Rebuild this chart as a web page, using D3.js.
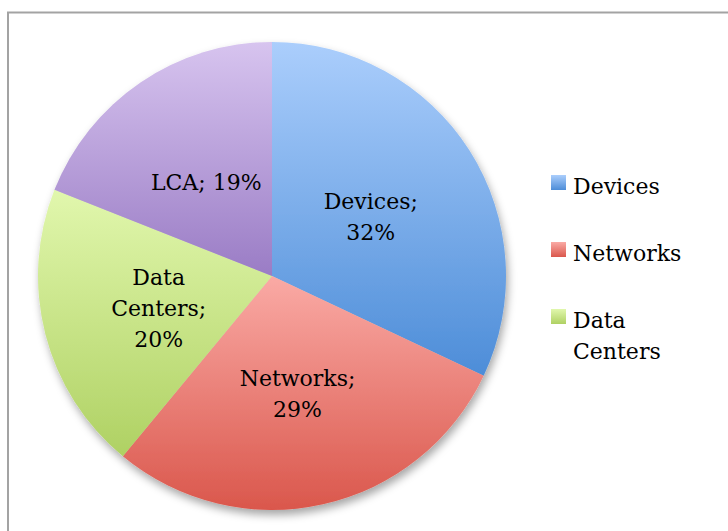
<!DOCTYPE html>
<html>
<head>
<meta charset="utf-8">
<script src="https://cdn.jsdelivr.net/npm/d3@7/dist/d3.min.js"></script>
<style>
  body { margin: 0; background: #fff; }
  text { font-family: "DejaVu Serif", serif; fill: #000; }
</style>
</head>
<body>
<div id="chart"></div>
<script>
// chart data
var categories = ["Devices", "Networks", "Data Centers", "LCA"];
var values = [32, 29, 20, 19];
var labelLines = [["Devices;", "32%"], ["Networks;", "29%"], ["Data", "Centers;", "20%"], ["LCA; 19%"]];
var legendItems = [["Devices"], ["Networks"], ["Data", "Centers"]];
var topColors = ["#abcefc", "#faaaa5", "#e1f7ad", "#d7c4ef"];
var bottomColors = ["#4d8dd8", "#da574c", "#afd163", "#9a7cc5"];

var width = 728, height = 531;
var cx = 272, cy = 276, radius = 234;

var svg = d3.select("#chart")
  .append("svg")
    .attr("width", width)
    .attr("height", height);

// frame (cut off at right and bottom like the original)
svg.append("rect")
  .attr("x", 8)
  .attr("y", 12.5)
  .attr("width", width + 20)
  .attr("height", height + 20)
  .attr("fill", "#fff")
  .attr("stroke", "#a3a3a3")
  .attr("stroke-width", 2);

var defs = svg.append("defs");

var shadow = defs.append("filter")
  .attr("id", "shadow")
  .attr("x", "-10%").attr("y", "-10%")
  .attr("width", "120%").attr("height", "125%");
shadow.append("feDropShadow")
  .attr("dx", 2)
  .attr("dy", 5)
  .attr("stdDeviation", 4)
  .attr("flood-color", "#000")
  .attr("flood-opacity", 0.35);

categories.forEach(function(c, i) {
  var g = defs.append("linearGradient")
    .attr("id", "grad" + i)
    .attr("x1", 0).attr("y1", 0)
    .attr("x2", 0).attr("y2", 1);
  g.append("stop").attr("offset", "0%").attr("stop-color", topColors[i]);
  g.append("stop").attr("offset", "100%").attr("stop-color", bottomColors[i]);
});

var data = categories.map(function(c, i) { return {name: c, value: values[i], lines: labelLines[i]}; });

var pie = d3.pie()
  .sort(null)
  .value(function(d) { return d.value; });

var arc = d3.arc()
  .innerRadius(0)
  .outerRadius(radius);

var labelArc = d3.arc()
  .innerRadius(radius * 0.5)
  .outerRadius(radius * 0.5);

var pieG = svg.append("g")
  .attr("transform", "translate(" + cx + "," + cy + ")");

var slices = pie(data);

pieG.append("g")
  .attr("filter", "url(#shadow)")
  .selectAll("path")
  .data(slices)
  .enter()
  .append("path")
    .attr("d", arc)
    .attr("fill", function(d, i) { return "url(#grad" + i + ")"; });

// slice labels
var lineH = 31;
pieG.selectAll(".label")
  .data(slices)
  .enter()
  .append("text")
    .attr("class", "label")
    .attr("text-anchor", "middle")
    .attr("font-size", 22)
    .attr("transform", function(d) {
      var c = labelArc.centroid(d);
      var n = d.data.lines.length;
      return "translate(" + c[0] + "," + (c[1] - (n - 1) * lineH / 2 + 11) + ")";
    })
    .selectAll("tspan")
    .data(function(d) { return d.data.lines; })
    .enter()
    .append("tspan")
      .attr("x", 0)
      .attr("dy", function(d, i) { return i === 0 ? 0 : lineH; })
      .text(function(d) { return d; });

// legend
var legendY = d3.scalePoint()
  .domain(d3.range(legendItems.length))
  .range([194, 328]);

var legend = svg.append("g");
legendItems.forEach(function(lines, i) {
  var y = legendY(i);
  legend.append("rect")
    .attr("x", 551)
    .attr("y", y - 19)
    .attr("width", 15)
    .attr("height", 15)
    .attr("fill", "url(#grad" + i + ")");
  var t = legend.append("text")
    .attr("x", 573)
    .attr("y", y)
    .attr("font-size", 22);
  lines.forEach(function(l, j) {
    t.append("tspan")
      .attr("x", 573)
      .attr("dy", j === 0 ? 0 : 31)
      .text(l);
  });
});
</script>
</body>
</html>
